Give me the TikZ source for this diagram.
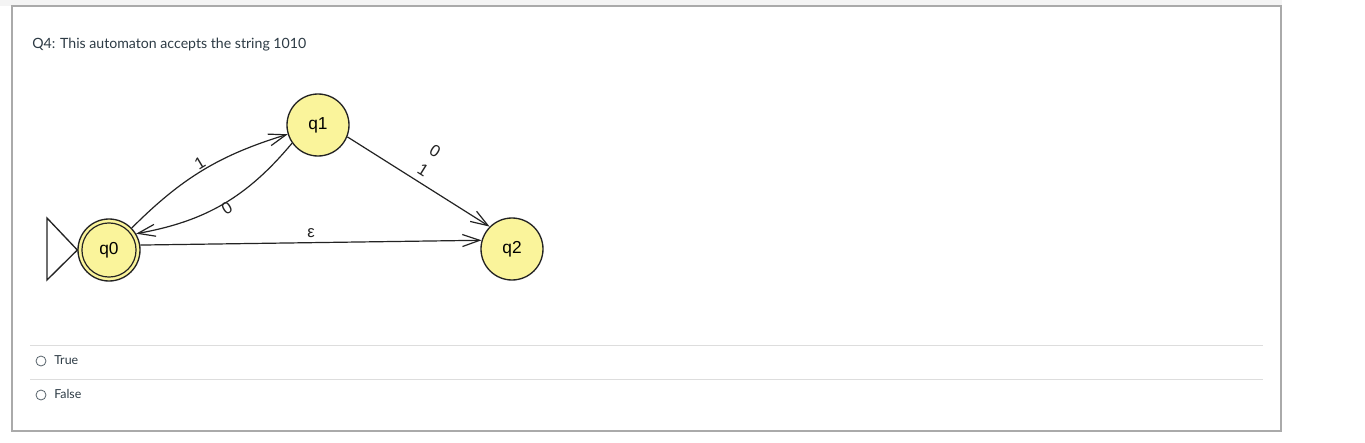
\documentclass[tikz,border=0pt]{standalone}
\usepackage{fontspec}
\setmainfont{Lato}
\newfontfamily\diagfont{Liberation Sans}
\usetikzlibrary{arrows.meta}
\definecolor{statefill}{RGB}{250,244,155}
\definecolor{canvastext}{RGB}{45,59,69}
\definecolor{framegray}{RGB}{170,170,170}
\definecolor{sepgray}{RGB}{221,221,221}
\definecolor{topgray}{RGB}{244,244,244}
\definecolor{edgecol}{RGB}{35,35,35}
\tikzset{
  state/.style={circle, draw=edgecol, line width=1pt, fill=statefill, minimum size=46.5pt, inner sep=0pt, font=\diagfont\fontsize{13}{15}\selectfont},
  trans/.style={draw=edgecol, line width=0.9pt, -{Straight Barb[length=13pt, width=9pt, line width=0.9pt]}},
  elabel/.style={font=\diagfont\fontsize{12.5}{13}\selectfont, inner sep=1pt, text=edgecol},
  qtext/.style={font=\fontsize{10.6}{12}\selectfont, text=canvastext, inner sep=0pt, anchor=base west},
  opttext/.style={font=\fontsize{9.3}{11}\selectfont, text=canvastext, inner sep=0pt, anchor=base west},
  radio/.style={circle, draw=canvastext!80, line width=0.6pt, minimum size=7.5pt, inner sep=0pt},
  sepline/.style={draw=sepgray, line width=0.75pt},
}
\begin{document}
\begin{tikzpicture}[x=0.75pt, y=-0.75pt]
\useasboundingbox (0,0) rectangle (1365,443);
\fill[white] (0,0) rectangle (1365,443);
\fill[topgray] (0,0) rectangle (1282,6);
\draw[framegray, line width=0.9pt] (12,6) -- (1281,6) -- (1281,431) -- (12,431) -- cycle;

\node[qtext] (title) at (32,48) {Q4: This automaton accepts the string 1010};

% states
\node[state] (q0) at (109,250) {q0};
\draw[edgecol, line width=0.9pt] (q0.center) circle[radius=20.3pt];
\node[state] (q1) at (318,125) {q1};
\node[state] (q2) at (512,249) {q2};

% initial marker
\coordinate (itop) at (47,218);
\coordinate (ibot) at (47,280);
\draw[edgecol, line width=1pt] (q0.west) -- (itop) -- (ibot) -- cycle;

% transitions
\draw[trans] (q0.44) to[bend left=14] (q1.197);
\draw[trans] (q1.215) to[bend left=20] (q0.31);
\draw[trans] (q0.9) -- (q2.164);
\draw[trans] (q1.-22) -- (q2.135);

% labels
\node[elabel, rotate=31] (l1) at (200,163) {1};
\node[elabel, rotate=31] (l0) at (227,208) {0};
\node[elabel] (leps) at (311,233) {ε};
\node[elabel, rotate=-32] (l2a) at (435,151) {0};
\node[elabel, rotate=-32] (l2b) at (423,170) {1};

% options
\draw[sepline] (30,345) -- (1263,345);
\draw[sepline] (30,379) -- (1263,379);
\node[radio] (r1) at (41,361) {};
\node[opttext] (t1) at (54,364.5) {True};
\node[radio] (r2) at (41,395) {};
\node[opttext] (t2) at (54,398.5) {False};
\end{tikzpicture}
\end{document}
